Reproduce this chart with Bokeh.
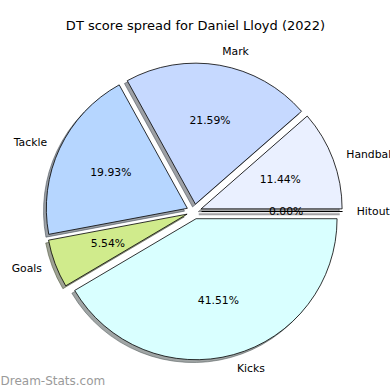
import numpy as np
from bokeh.plotting import figure
from bokeh.models import Range1d, ColumnDataSource
from bokeh.core.properties import value
from bokeh.embed import file_html
from bokeh.resources import INLINE

title = "DT score spread for Daniel Lloyd (2022)"
categories = ["Hitout", "Handball", "Mark", "Tackle", "Goals", "Kicks"]
percents = [0.00, 11.44, 21.59, 19.93, 5.54, 41.51]
colors = ["#f0e6ff", "#eaf0ff", "#c6d9ff", "#b6d6ff", "#d0eb8c", "#d9ffff"]
watermark = "Dream-Stats.com"

# layout (in page pixels, y measured upward from bottom of 390 window)
W = 390
cx, cy = 193.6, W - 211.0
R = 141.0
explode = 0.053 * R
shadow_off = 0.02 * R

vals = np.array(percents)
frac = vals / vals.sum()
ends = np.cumsum(frac) * 2 * np.pi
starts = ends - frac * 2 * np.pi
mids = (starts + ends) / 2
xs = cx + explode * np.cos(mids)
ys = cy + explode * np.sin(mids)

def darken(hx):
    h = hx.lstrip("#")
    r, g, b = (int(h[i:i + 2], 16) for i in (0, 2, 4))
    return "#%02x%02x%02x" % (int(r * 0.3), int(g * 0.3), int(b * 0.3))

shadow_colors = [darken(c) for c in colors]
nz = vals > 0
z = ~nz

p = figure(width=W, height=W, output_backend="svg", toolbar_location=None,
           x_range=Range1d(0, W), y_range=Range1d(0, W), min_border=0)
p.axis.visible = False
p.grid.visible = False
p.outline_line_color = None
p.background_fill_color = "white"
p.border_fill_color = "white"

sh = ColumnDataSource(dict(x=xs[nz] - shadow_off, y=ys[nz] - shadow_off,
                           s=starts[nz], e=ends[nz], c=np.array(shadow_colors)[nz].tolist()))
p.wedge(x="x", y="y", radius=R, start_angle="s", end_angle="e", source=sh,
        fill_color="c", line_color="c", fill_alpha=0.5, line_alpha=0.5, line_width=1)
# zero-size wedges: shadow line
p.segment(x0=xs[z] - shadow_off, y0=ys[z] - shadow_off,
          x1=xs[z] - shadow_off + R * np.cos(starts[z]), y1=ys[z] - shadow_off + R * np.sin(starts[z]),
          line_color=np.array(shadow_colors)[z].tolist(), line_alpha=0.5, line_width=2)

src = ColumnDataSource(dict(x=xs[nz], y=ys[nz], s=starts[nz], e=ends[nz],
                            c=np.array(colors)[nz].tolist()))
p.wedge(x="x", y="y", radius=R, start_angle="s", end_angle="e", source=src,
        fill_color="c", line_color="black", line_width=0.8)
p.segment(x0=xs[z], y0=ys[z], x1=xs[z] + R * np.cos(starts[z]), y1=ys[z] + R * np.sin(starts[z]),
          line_color="black", line_width=1)

# labels
lx = xs + 1.1 * R * np.cos(mids)
ly = ys + 1.1 * R * np.sin(mids)
align = ["left" if np.cos(m) >= 0 else "right" for m in mids]
p.text(x=lx, y=ly, text=categories, text_align=align, text_baseline="middle",
       text_font=value("DejaVu Sans"), text_font_size="10.8px", text_color="black")

px = xs + 0.6 * R * np.cos(mids)
py = ys + 0.6 * R * np.sin(mids)
p.text(x=px, y=py, text=["%.2f%%" % v for v in percents], text_align="center",
       text_baseline="middle", text_font=value("DejaVu Sans"), text_font_size="10.8px",
       text_color="black")

p.text(x=[195], y=[W - 25], text=[title], text_align="center", text_baseline="middle",
       text_font=value("DejaVu Sans"), text_font_size="13px", text_color="black")
p.text(x=[0], y=[W - 380], text=[watermark], text_align="left", text_baseline="middle",
       text_font=value("DejaVu Sans"), text_font_size="12px", text_color="#9a9a9a")

open("out.html", "w").write(file_html(p, INLINE))
